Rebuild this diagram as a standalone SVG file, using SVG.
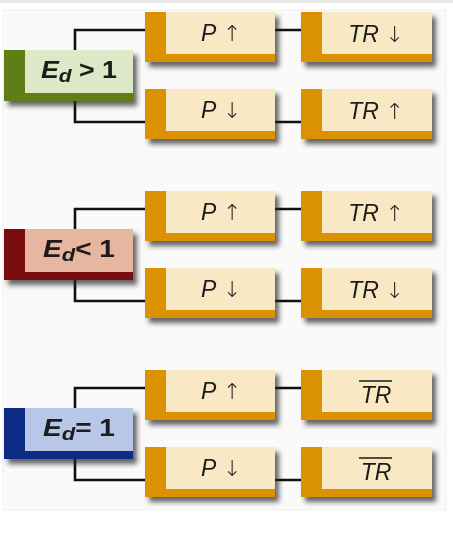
<svg xmlns="http://www.w3.org/2000/svg" width="453" height="536" viewBox="0 0 453 536">
<defs>
<filter id="sh" x="-10%" y="-20%" width="130%" height="160%">
<feDropShadow dx="4" dy="5" stdDeviation="2.5" flood-color="#222" flood-opacity="0.7"/>
</filter>
</defs>
<style>
.ln{stroke:#111;stroke-width:2.6;fill:none}
.or{fill:#DB9200}
.cr{fill:#F8E8C4}
.t{font-family:"Liberation Sans",Arial,sans-serif;font-size:23px;fill:#1a1a1a;text-anchor:middle}
.a{font-family:"DejaVu Sans",sans-serif;font-size:22px;font-weight:300}
.e{font-family:"Liberation Sans",Arial,sans-serif;font-size:23px;font-weight:bold;fill:#1a1a1a;text-anchor:middle}
.it{font-style:italic}
</style>
<rect x="0" y="0" width="453" height="3" fill="#e8e8e8"/>
<rect x="3" y="10" width="443" height="500" fill="#fafafa" stroke="#f0f0f0" stroke-width="1"/>
<g id="connectors">
<path class="ln" d="M75 50V30H146M75 101V122H146M275 30H302M275 122H302"/>
<path class="ln" d="M75 229V209H146M75 280V301H146M275 209H302M275 301H302"/>
<path class="ln" d="M75 408V388H146M75 459V480H146M275 388H302M275 480H302"/>
</g>
<g id="ed1" filter="url(#sh)"><rect x="4" y="50" width="129" height="51" fill="#5E7F12"/><rect x="25" y="50" width="108" height="43" fill="#DCE8C8"/><text class="e" x="79" y="78" textLength="76" lengthAdjust="spacingAndGlyphs"><tspan class="it">E</tspan><tspan class="it" font-size="18" dy="4">d</tspan><tspan dy="-4"> &gt; 1</tspan></text></g>
<g id="ed2" filter="url(#sh)"><rect x="4" y="229" width="129" height="51" fill="#7A0A0A"/><rect x="25" y="229" width="108" height="43" fill="#E6B6A0"/><text class="e" x="79" y="257" textLength="72" lengthAdjust="spacingAndGlyphs"><tspan class="it">E</tspan><tspan class="it" font-size="18" dy="4">d</tspan><tspan dy="-4">&lt; 1</tspan></text></g>
<g id="ed3" filter="url(#sh)"><rect x="4" y="408" width="129" height="51" fill="#0C2A84"/><rect x="25" y="408" width="108" height="43" fill="#B8C6E8"/><text class="e" x="79" y="436" textLength="72" lengthAdjust="spacingAndGlyphs"><tspan class="it">E</tspan><tspan class="it" font-size="18" dy="4">d</tspan><tspan dy="-4">= 1</tspan></text></g>

<g id="p1" filter="url(#sh)"><rect class="or" x="145" y="12" width="130" height="50"/><rect class="cr" x="166" y="12" width="109" height="42"/><text class="t" x="221" y="41"><tspan class="it">P</tspan> <tspan class="a">↑</tspan></text></g>
<g id="p2" filter="url(#sh)"><rect class="or" x="145" y="89" width="130" height="50"/><rect class="cr" x="166" y="89" width="109" height="42"/><text class="t" x="221" y="118"><tspan class="it">P</tspan> <tspan class="a">↓</tspan></text></g>
<g id="p3" filter="url(#sh)"><rect class="or" x="145" y="191" width="130" height="50"/><rect class="cr" x="166" y="191" width="109" height="42"/><text class="t" x="221" y="220"><tspan class="it">P</tspan> <tspan class="a">↑</tspan></text></g>
<g id="p4" filter="url(#sh)"><rect class="or" x="145" y="268" width="130" height="50"/><rect class="cr" x="166" y="268" width="109" height="42"/><text class="t" x="221" y="297"><tspan class="it">P</tspan> <tspan class="a">↓</tspan></text></g>
<g id="p5" filter="url(#sh)"><rect class="or" x="145" y="370" width="130" height="50"/><rect class="cr" x="166" y="370" width="109" height="42"/><text class="t" x="221" y="399"><tspan class="it">P</tspan> <tspan class="a">↑</tspan></text></g>
<g id="p6" filter="url(#sh)"><rect class="or" x="145" y="447" width="130" height="50"/><rect class="cr" x="166" y="447" width="109" height="42"/><text class="t" x="221" y="476"><tspan class="it">P</tspan> <tspan class="a">↓</tspan></text></g>

<g id="tr1" filter="url(#sh)"><rect class="or" x="301" y="12" width="131" height="50"/><rect class="cr" x="322" y="12" width="110" height="42"/><text class="t" x="376" y="42"><tspan class="it">TR</tspan> <tspan class="a">↓</tspan></text></g>
<g id="tr2" filter="url(#sh)"><rect class="or" x="301" y="89" width="131" height="50"/><rect class="cr" x="322" y="89" width="110" height="42"/><text class="t" x="376" y="119"><tspan class="it">TR</tspan> <tspan class="a">↑</tspan></text></g>
<g id="tr3" filter="url(#sh)"><rect class="or" x="301" y="191" width="131" height="50"/><rect class="cr" x="322" y="191" width="110" height="42"/><text class="t" x="376" y="221"><tspan class="it">TR</tspan> <tspan class="a">↑</tspan></text></g>
<g id="tr4" filter="url(#sh)"><rect class="or" x="301" y="268" width="131" height="50"/><rect class="cr" x="322" y="268" width="110" height="42"/><text class="t" x="376" y="298"><tspan class="it">TR</tspan> <tspan class="a">↓</tspan></text></g>
<g id="tr5" filter="url(#sh)"><rect class="or" x="301" y="370" width="131" height="50"/><rect class="cr" x="322" y="370" width="110" height="42"/><text class="t it" x="376" y="403">TR</text><line x1="359" y1="381" x2="392" y2="381" stroke="#1a1a1a" stroke-width="1.6"/></g>
<g id="tr6" filter="url(#sh)"><rect class="or" x="301" y="447" width="131" height="50"/><rect class="cr" x="322" y="447" width="110" height="42"/><text class="t it" x="376" y="480">TR</text><line x1="359" y1="458" x2="392" y2="458" stroke="#1a1a1a" stroke-width="1.6"/></g>
</svg>
